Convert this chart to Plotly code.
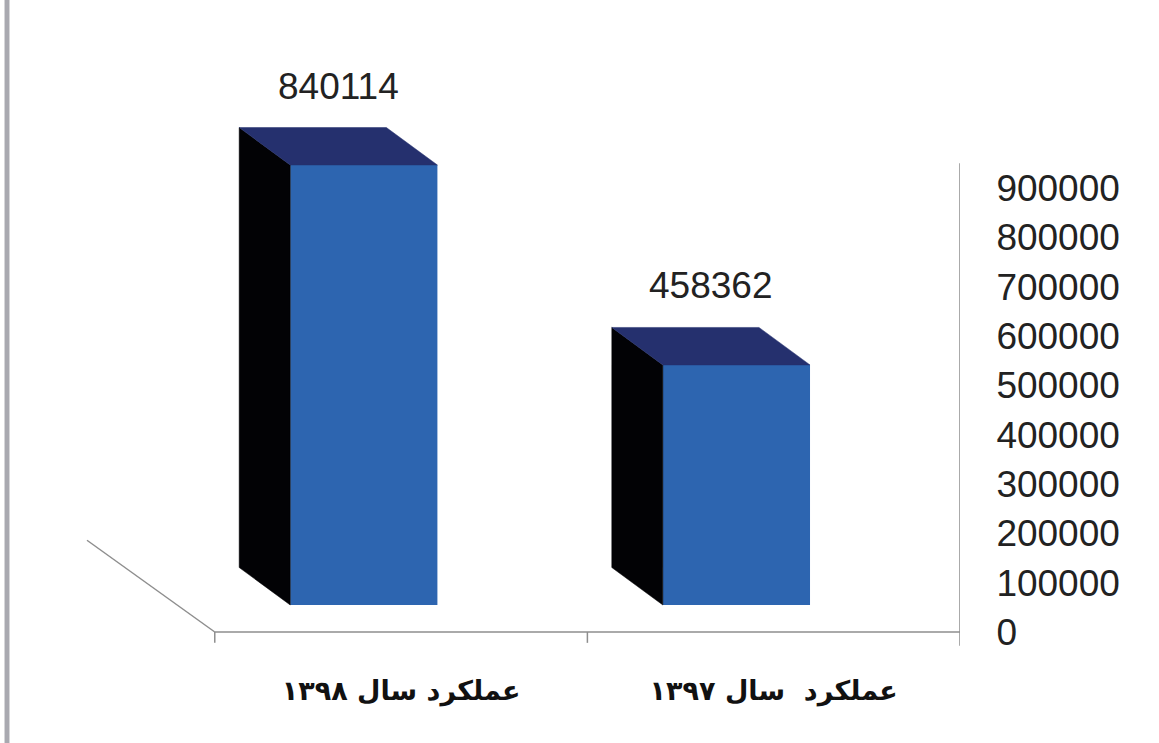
import plotly.graph_objects as go

# ---- data ----
categories = ["عملکرد سال ۱۳۹۸", "عملکرد  سال ۱۳۹۷"]
values = [840114, 458362]
tick_values = [0, 100000, 200000, 300000, 400000, 500000, 600000, 700000, 800000, 900000]
tick_labels = [str(v) for v in tick_values]

# ---- pseudo-3D geometry / style ----
BAR_OFFSET = -0.1      # front face shifted left inside its category
BAR_WIDTH = 0.395
DEPTH_X = 0.137        # depth offset in category units
DEPTH_Y = 71600        # depth offset in bar-axis units
FLOOR_DX = 0.343       # floor edge (depth) in category units
FLOOR_DY = 186000      # floor edge (depth) in value-axis units
AXIS_TOP = 950000

FRONT = "#2d65b0"
TOP = "#25306e"
SIDE = "#020205"
LINE = "#8e8e8e"
TEXT = "#222222"

fig = go.Figure()

for i, v in enumerate(values):
    xl = i + BAR_OFFSET - BAR_WIDTH / 2
    xr = i + BAR_OFFSET + BAR_WIDTH / 2
    # side face
    fig.add_trace(go.Scatter(
        x=[xl, xl, xl - DEPTH_X, xl - DEPTH_X, xl],
        y=[0, v, v + DEPTH_Y, DEPTH_Y, 0],
        fill="toself", fillcolor=SIDE, mode="lines",
        line=dict(width=0.5, color=SIDE), hoverinfo="skip", showlegend=False))
    # top face
    fig.add_trace(go.Scatter(
        x=[xl, xr, xr - DEPTH_X, xl - DEPTH_X, xl],
        y=[v, v, v + DEPTH_Y, v + DEPTH_Y, v],
        fill="toself", fillcolor=TOP, mode="lines",
        line=dict(width=0.5, color=TOP), hoverinfo="skip", showlegend=False))
    # value label
    fig.add_annotation(
        x=i + BAR_OFFSET - DEPTH_X / 2, y=v + DEPTH_Y, xref="x", yref="y",
        text=str(v), showarrow=False, yanchor="bottom", yshift=19,
        font=dict(family="Liberation Sans, Arial", size=37, color=TEXT))

# front faces
fig.add_trace(go.Bar(
    x=[i + BAR_OFFSET for i in range(len(values))], y=values, width=BAR_WIDTH,
    marker=dict(color=FRONT, line=dict(width=0)), showlegend=False,
    hoverinfo="skip"))

# invisible trace to activate the right-hand value axis
fig.add_trace(go.Scatter(x=[None], y=[None], yaxis="y2", showlegend=False))

n = len(values)
# floor / axes decoration
fig.add_shape(type="line", xref="x", yref="y2", x0=-0.5, x1=n - 0.5, y0=0, y1=0,
              line=dict(color=LINE, width=1.5))
fig.add_shape(type="line", xref="x", yref="y2", x0=-0.5, x1=-0.5 - FLOOR_DX,
              y0=0, y1=FLOOR_DY, line=dict(color=LINE, width=1.5))
for k in range(n):
    fig.add_shape(type="line", xref="x", yref="y2", x0=k - 0.5, x1=k - 0.5,
                  y0=0, y1=-22000, line=dict(color=LINE, width=1.5))
fig.add_shape(type="line", xref="x", yref="y2", x0=n - 0.5, x1=n - 0.5,
              y0=-28000, y1=AXIS_TOP, line=dict(color=LINE, width=1.5))
# grey left border of the picture
fig.add_shape(type="rect", xref="paper", yref="paper", x0=-0.0640, x1=-0.0585,
              y0=-0.3, y1=1.3, line=dict(width=0), fillcolor="#a9a9b0")

fig.update_layout(
    width=1159, height=743, autosize=False,
    margin=dict(l=62, r=199, t=60, b=88),
    paper_bgcolor="white", plot_bgcolor="white",
    showlegend=False,
    xaxis=dict(range=[-0.91, n - 0.5], showgrid=False, zeroline=False, showline=False,
               tickmode="array", tickvals=list(range(n)),
               ticktext=["<b>" + c + "</b>" for c in categories],
               ticks="outside", ticklen=12, tickcolor="rgba(0,0,0,0)",
               tickfont=dict(family="DejaVu Sans", size=27, color="#111111")),
    yaxis=dict(range=[-95468, 1040596], visible=False, fixedrange=True),
    yaxis2=dict(range=[-46622, 1159459], overlaying="y", side="right", anchor="x",
                showgrid=False, zeroline=False, showline=False,
                tickmode="array", tickvals=tick_values, ticktext=tick_labels,
                ticks="outside", ticklen=28, tickcolor="rgba(0,0,0,0)",
                tickfont=dict(family="Liberation Sans, Arial", size=37, color=TEXT)),
)

fig.write_html("out.html", config={"displayModeBar": False},
               post_script="document.body.style.margin='0px';")
